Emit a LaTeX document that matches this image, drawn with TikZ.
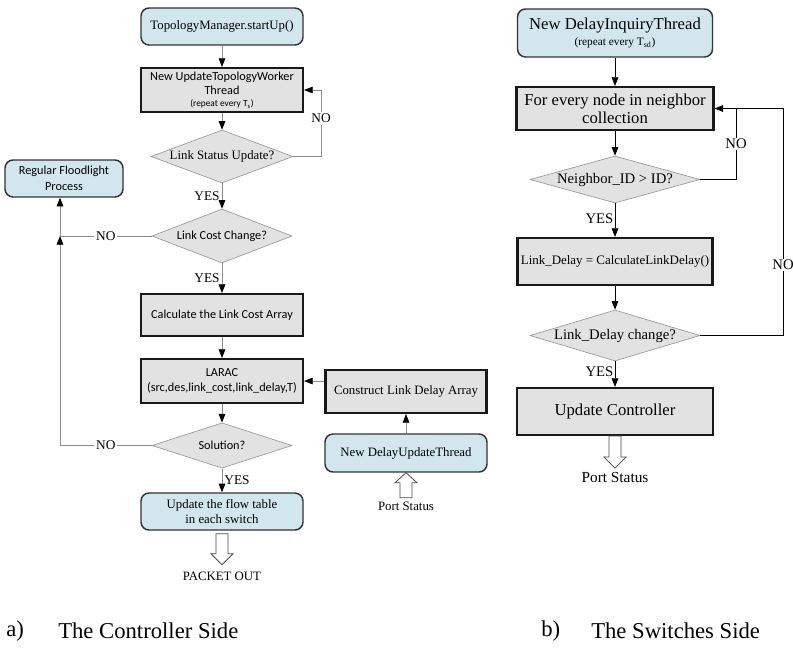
\documentclass[tikz,border=0pt]{standalone}
\usepackage{fontspec}
\setmainfont{Liberation Serif}
\newfontfamily\calfont{Carlito}
\usetikzlibrary{arrows.meta,shapes.geometric}
\definecolor{boxblue}{HTML}{D2E6EE}
\definecolor{boxgray}{HTML}{E2E2E2}
\definecolor{linegray}{HTML}{8C8C8C}
\begin{document}
\begin{tikzpicture}[x=0.75pt,y=-0.75pt,
  rbox/.style={draw=black!80, line width=1.1pt, rounded corners=6pt, fill=boxblue, align=center, inner sep=1pt},
  gbox/.style={draw=black!90, line width=1.6pt, fill=boxgray, align=center, inner sep=1pt},
  dia/.style={diamond, draw=black!40, line width=0.5pt, fill=boxgray, inner sep=0pt},
  lser/.style={font=\fontsize{9.6}{11.5}\selectfont},
  lsans/.style={font=\calfont\fontsize{9.2}{11.6}\selectfont},
  rser/.style={font=\fontsize{12.5}{13.5}\selectfont},
  dtext/.style={font=\fontsize{11}{13}\selectfont},
  arr/.style={draw=linegray, line width=0.6pt, -{Triangle[length=6.5pt,width=5pt,color=black]}},
  line/.style={draw=linegray, line width=0.6pt},
  arrb/.style={draw=black, line width=0.6pt, -{Triangle[length=6.5pt,width=5pt]}},
  lineb/.style={draw=black, line width=0.6pt},
  lbl/.style={font=\fontsize{10}{12}\selectfont, inner sep=1.5pt},
  rlbl/.style={font=\fontsize{11}{13}\selectfont, inner sep=1pt},
  hollow/.style={draw=black!70, fill=white, line width=0.6pt},
  caption/.style={font=\fontsize{17}{20}\selectfont, anchor=west, inner sep=0pt}
]
\useasboundingbox (0,0) rectangle (793,647);

% ---------- left column (controller) ----------
\node[rbox, lser, minimum width=121.5pt, minimum height=27.75pt] (tm) at (222,26.5) {TopologyManager.startUp()};
\node[gbox, lsans, minimum width=121.5pt, minimum height=33pt, font=\calfont\fontsize{9.2}{10.5}\selectfont] (utw) at (222,90)
  {New UpdateTopologyWorker\\Thread\\[-1pt]{\fontsize{7}{8}\selectfont (repeat every T\textsubscript{s})}};
\node[dia, minimum width=106.5pt, minimum height=39.75pt, label={[lser]center:Link Status Update?}] (lsu) at (222,156.5) {};
\node[dia, minimum width=105pt, minimum height=40.5pt, label={[lsans]center:Link Cost Change?}] (lcc) at (222,236) {};
\node[gbox, lsans, minimum width=121.5pt, minimum height=31.5pt] (calc) at (222,315) {Calculate the Link Cost Array};
\node[gbox, lsans, minimum width=121.5pt, minimum height=33pt] (larac) at (222,381) {LARAC\\(src,des,link\_cost,link\_delay,T)};
\node[dia, minimum width=105pt, minimum height=34pt, label={[lsans]center:Solution?}] (sol) at (222,445.5) {};
\node[rbox, lser, minimum width=121.5pt, minimum height=27.75pt] (upd) at (222,511.5) {Update the flow table\\in each switch};
\node[rbox, lsans, minimum width=88.5pt, minimum height=27.75pt] (rfp) at (64,178.5) {Regular Floodlight\\Process};
\node[lser, inner sep=1pt] (po) at (222,576) {PACKET OUT};

\node[gbox, lser, minimum width=120.75pt, minimum height=32.25pt] (cons) at (406,391.5) {Construct Link Delay Array};
\node[rbox, lser, minimum width=121.5pt, minimum height=28.5pt] (dut) at (406,453) {New DelayUpdateThread};
\node[lser, inner sep=1pt] (ps1) at (406,506) {Port Status};

\coordinate (l1) at (321,0);
\coordinate (j1) at (60,236);

\draw[arr] (tm) -- (utw);
\draw[arr] (utw) -- (lsu);
\draw[arr] (lsu.east) -- (lsu.east -| l1) -- node[lbl, fill=white, pos=0.57] {NO} (l1 |- utw.east) -- (utw.east);
\draw[arr] (lsu) -- node[lbl, left] {YES} (lcc);
\draw[arr] (lcc) -- node[lbl, left] {YES} (calc);
\draw[line] (lcc.west) -- node[lbl, fill=white] {NO} (j1);
\draw[arr] (j1) -- (j1 |- rfp.south);
\draw[arr] (calc) -- (larac);
\draw[arr] (larac) -- (sol);
\draw[arr] (sol.west) -- node[lbl, fill=white] {NO} (sol.west -| j1) -- (j1);
\draw[arr] (sol) -- node[lbl, right] {YES} (upd);
\draw[arr] (cons.west |- larac.east) -- (larac.east);
\draw[arr] (dut) -- (cons);

\draw[hollow] (upd.south) ++(-6,3) -- ++(0,20) -- ++(-5,0) -- ++(11,11) -- ++(11,-11) -- ++(-5,0) -- ++(0,-20) -- cycle;
\draw[hollow] (dut.south) -- ++(-11,10) -- ++(5,0) -- ++(0,15) -- ++(12,0) -- ++(0,-15) -- ++(5,0) -- cycle;

% ---------- right column (switches) ----------
\node[rbox, rser, minimum width=146.25pt, minimum height=36pt] (dit) at (615,33)
  {New DelayInquiryThread\\[-2pt]{\fontsize{8.5}{10}\selectfont (repeat every T\textsubscript{sd})}};
\node[gbox, rser, minimum width=147.75pt, minimum height=32.25pt] (fen) at (615,108.5) {For every node in neighbor\\collection};
\node[dia, minimum width=127.5pt, minimum height=35.25pt, label={[dtext]center:Neighbor\_ID > ID?}] (nid) at (615,179.5) {};
\node[gbox, minimum width=146.25pt, minimum height=35.25pt, font=\fontsize{9.7}{11}\selectfont] (ld) at (615,261.5) {Link\_Delay = CalculateLinkDelay()};
\node[dia, minimum width=127.5pt, minimum height=38.25pt, label={[dtext]center:Link\_Delay change?}] (ldc) at (615,335.5) {};
\node[gbox, rser, minimum width=147pt, minimum height=35.25pt] (uc) at (615,411.5) {Update Controller};
\node[font=\fontsize{11.5}{13}\selectfont, inner sep=1pt] (ps2) at (615,477) {Port Status};

\coordinate (r1) at (736,0);
\coordinate (r2) at (783,0);

\draw[arrb] (dit) -- (fen);
\draw[arrb] (fen) -- (nid);
\draw[lineb] (nid.east) -- (nid.east -| r1) -- node[rlbl, fill=white] {NO} (r1 |- fen.east);
\draw[arrb] (ldc.east) -- (ldc.east -| r2) -- node[rlbl, fill=white, pos=0.31] {NO} (r2 |- fen.east) -- (fen.east);
\draw[arrb] (nid) -- node[rlbl, left, pos=0.45] {YES} (ld);
\draw[arrb] (ld) -- (ldc);
\draw[arrb] (ldc) -- node[rlbl, left, pos=0.4] {YES} (uc);

\draw[hollow] (uc.south) ++(-6,0) -- ++(0,21) -- ++(-5,0) -- ++(11,11) -- ++(11,-11) -- ++(-5,0) -- ++(0,-21) -- cycle;

% ---------- captions ----------
\node[caption] (ca) at (6,631) {a)};
\node[caption] (cat) at (58,631) {The Controller Side};
\node[caption] (cb) at (541,631) {b)};
\node[caption] (cbt) at (591,631) {The Switches Side};
\end{tikzpicture}
\end{document}
